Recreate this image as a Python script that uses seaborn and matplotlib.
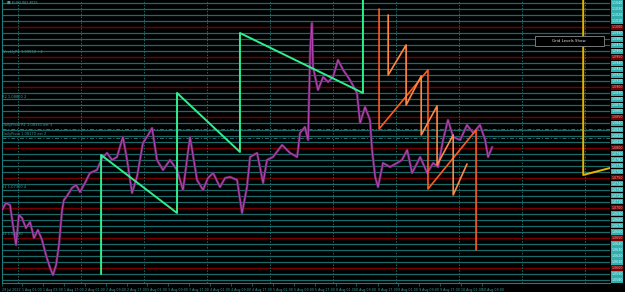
import matplotlib
matplotlib.use("Agg")
import matplotlib.pyplot as plt
import matplotlib.transforms as mtransforms
from matplotlib.patches import Rectangle
import seaborn as sns
import pandas as pd

# ---------------- data (time in hours from chart start, price) ----------------
price_hours = [0, 1.5, 3.1, 4.2, 5.4, 6.5, 7.7, 9.2, 10.8, 12.3, 13.8, 15.4, 16.9, 18.5, 19.6,
               20.8, 21.9, 23.1, 23.8, 25.0, 26.9, 28.5, 30.0, 31.9, 33.8, 36.5, 38.5, 40.4,
               42.3, 44.2, 46.5, 48.1, 50.0, 51.9, 54.2, 56.2, 57.7, 59.6, 61.9, 64.6, 67.3,
               69.6, 72.3, 75.0, 77.3, 79.2, 81.2, 83.8, 85.8, 87.7, 90.4, 92.3, 94.2, 95.4,
               98.1, 100.4, 101.9, 104.2, 107.7, 110.8, 113.5, 114.6, 116.5, 117.7, 118.5,
               119.2, 119.6, 121.5, 123.5, 125.4, 127.3, 129.2, 131.2, 133.8, 136.5, 137.7,
               139.6, 141.5, 142.3, 143.5, 144.6, 146.5, 149.2, 151.9, 153.8, 155.8, 157.7,
               160.8, 163.5, 165.8, 167.7, 169.6, 171.5, 173.5, 176.2, 178.8, 181.2, 183.8,
               185.8, 186.9, 188.5]
price_close = [1.06963, 1.07080, 1.07046, 1.06714, 1.06382, 1.06880, 1.06831, 1.06664, 1.06764,
               1.06498, 1.06631, 1.06465, 1.06216, 1.06000, 1.05884, 1.06050, 1.06382, 1.06963,
               1.07129, 1.07196, 1.07329, 1.07379, 1.07262, 1.07412, 1.07578, 1.07628, 1.07827,
               1.07910, 1.07794, 1.07844, 1.08176, 1.07794, 1.07246, 1.07512, 1.08076, 1.08209,
               1.08325, 1.07794, 1.07628, 1.07794, 1.07628, 1.07296, 1.08176, 1.07462, 1.07296,
               1.07495, 1.07578, 1.07345, 1.07495, 1.07512, 1.07462, 1.06914, 1.07345, 1.07844,
               1.07910, 1.07412, 1.07794, 1.07844, 1.08043, 1.07910, 1.07844, 1.08242, 1.08342,
               1.08126, 1.09621, 1.10069, 1.09339, 1.08957, 1.09173, 1.09089, 1.09173, 1.09455,
               1.09289, 1.09123, 1.08907, 1.08408, 1.08674, 1.08458, 1.07960, 1.07512, 1.07345,
               1.07744, 1.07678, 1.07744, 1.07794, 1.07960, 1.07578, 1.07844, 1.07578, 1.07744,
               1.07678, 1.08126, 1.08458, 1.08176, 1.08126, 1.08375, 1.08242, 1.08375, 1.08126,
               1.07844, 1.08010]

green_hours = [38.1, 38.1, 67.3, 67.3, 91.5, 91.5, 138.8, 138.8]
green_price = [1.05900, 1.07877, 1.06914, 1.08907, 1.07927, 1.09903, 1.08907, 1.10600]

orange_a_hours = [145.0, 145.0, 163.8, 163.8, 182.3, 182.3]
orange_a_price = [1.10302, 1.08309, 1.09289, 1.07312, 1.08292, 1.06299]

orange_b_hours = [148.5, 148.5, 155.4, 155.4, 161.2, 161.2, 167.3, 167.3, 173.5, 173.5, 178.8]
orange_b_price = [1.10202, 1.09206, 1.09704, 1.08707, 1.09189, 1.08209, 1.08691, 1.07711,
                  1.08209, 1.07213, 1.07727]

yellow_hours = [223.5, 223.5, 233.8]
yellow_price = [1.10600, 1.07545, 1.07661]

grid_levels = [round(1.0580 + 0.0010 * k, 4) for k in range(47)]   # horizontal level lines
red_levels = [1.0600, 1.0650, 1.0700, 1.0750, 1.0800, 1.0850, 1.0900, 1.0950, 1.1000]
dashdot_levels = [1.08309, 1.08159]
day_lines = [6.2, 30.4, 54.6, 78.8, 103.0, 127.2, 151.4, 175.6, 199.8, 224.0]

tick_hours = [0, 7.7, 15.7, 23.8, 31.8, 39.9, 47.9, 55.9, 64.0, 72.0, 80.1, 88.1, 96.1, 104.2,
              112.2, 120.3, 128.3, 136.3, 144.4, 152.4, 160.5, 168.5, 176.5, 184.6]
tick_labels = ["29 Jul 2022", "1 Aug 01:00", "1 Aug 09:00", "1 Aug 17:00", "2 Aug 01:00",
               "2 Aug 09:00", "2 Aug 17:00", "3 Aug 01:00", "3 Aug 09:00", "3 Aug 17:00",
               "4 Aug 01:00", "4 Aug 09:00", "4 Aug 17:00", "5 Aug 01:00", "5 Aug 09:00",
               "5 Aug 17:00", "8 Aug 01:00", "8 Aug 09:00", "8 Aug 17:00", "9 Aug 01:00",
               "9 Aug 09:00", "9 Aug 17:00", "10 Aug 01:00", "10 Aug 09:00"]

left_notes = [("WeeklyR1 1.09550 +4", 1.09555), ("R2 1.08800 2", 1.08815),
              ("DailyPivot R1 1.08330 ext 3", 1.08345), ("DailyPivot 1.08170 ext 2", 1.08185),
              ("S1 1.07300 4", 1.07315), ("S2 1.06530", 1.06530)]

# ---------------- styling ----------------
sns.set_theme(style="dark", rc={"axes.facecolor": "black", "figure.facecolor": "black",
                                "axes.edgecolor": "#1f7a7a", "axes.grid": False})
plt.rcParams['font.family'] = ['DejaVu Sans']

TEAL = "#1c6b6b"
RED = "#760000"
TXT = "#3c9c9c"

fig = plt.figure(figsize=(6.25, 2.92), dpi=100)
ax = fig.add_axes([2 / 625, 9 / 292, 608 / 625, 283 / 292])
ax.set_facecolor("black")
ax.set_xlim(0, 233.8)
ax.set_ylim(1.05751, 1.10451)

# horizontal level lines
for lv in grid_levels:
    if any(abs(lv - r) < 1e-6 for r in red_levels):
        ax.axhline(lv, color=RED, lw=1.0, zorder=1)
    else:
        ax.axhline(lv, color=TEAL, lw=0.9, zorder=1)
for lv in dashdot_levels:
    ax.axhline(lv, color="#2f6f6f", lw=0.7, ls=(0, (4, 2, 1, 2)), zorder=1)

# vertical day separators
for d in day_lines:
    ax.axvline(d, color="#1f6a6a", lw=0.7, ls=(0, (1.5, 1.5)), zorder=1)

line_kw = dict(estimator=None, errorbar=None, sort=False, ax=ax)

# price line
dfp = pd.DataFrame({"t": price_hours, "p": price_close})
sns.lineplot(data=dfp, x="t", y="p", color="#6a2a6a", lw=1.8, zorder=3, **line_kw)
sns.lineplot(data=dfp, x="t", y="p", color="#c545c5", lw=0.6, zorder=4, **line_kw)

# zigzags
sns.lineplot(x=green_hours, y=green_price, color="#2ef08f", lw=1.4, zorder=5, **line_kw)
sns.lineplot(x=orange_a_hours, y=orange_a_price, color="#ff5a1f", lw=1.2, zorder=5, **line_kw)
sns.lineplot(x=orange_b_hours, y=orange_b_price, color="#ff8845", lw=1.2, zorder=5, **line_kw)
sns.lineplot(x=yellow_hours, y=yellow_price, color="#e8b400", lw=1.4, zorder=5, **line_kw)

# axes / ticks
ax.set_xlabel("")
ax.set_ylabel("")
ax.set_yticks([])
ax.set_xticks(tick_hours)
ax.set_xticklabels(tick_labels, fontsize=2.35, color=TXT, ha="left")
ax.tick_params(axis="x", length=2, width=0.5, color="#1f7a7a", pad=1.5, bottom=True)
for s in ["top", "right"]:
    ax.spines[s].set_visible(False)
ax.spines["left"].set_color("#1f7a7a")
ax.spines["bottom"].set_color("#1f7a7a")
ax.spines["left"].set_linewidth(0.8)
ax.spines["bottom"].set_linewidth(0.8)

# right price labels
trans = mtransforms.blended_transform_factory(ax.transAxes, ax.transData)
for lv in grid_levels:
    is_red = any(abs(lv - r) < 1e-6 for r in red_levels)
    ax.text(1.002, lv, f"{lv:.4f}", transform=trans, fontsize=2.3, va="center", ha="left",
            color="#d8ffff" if not is_red else "#ffb0b0", clip_on=False,
            bbox=dict(boxstyle="square,pad=0.2", fc=RED if is_red else "#33aeae", ec="none"))

# left notes and symbol
ax.text(0.008, 0.995, "\u25a0 EURUSD,M15", transform=ax.transAxes, fontsize=2.8, color=TXT,
        va="top", ha="left")
for txt, lv in left_notes:
    ax.text(0.006, lv, txt, fontsize=2.6, color=TXT, va="bottom", ha="left")

# "Grid Levels Show" button
ax.add_patch(Rectangle((533 / 608, 1 - 46 / 283), 69 / 608, 10 / 283, transform=ax.transAxes,
                       fc="black", ec="#8a8a8a", lw=0.6, zorder=6))
ax.text(567 / 608, 1 - 41 / 283, "Grid Levels Show", transform=ax.transAxes, fontsize=2.8,
        color="#e0e0e0", ha="center", va="center", zorder=7)

fig.savefig("out.png", dpi=100, facecolor="black")
